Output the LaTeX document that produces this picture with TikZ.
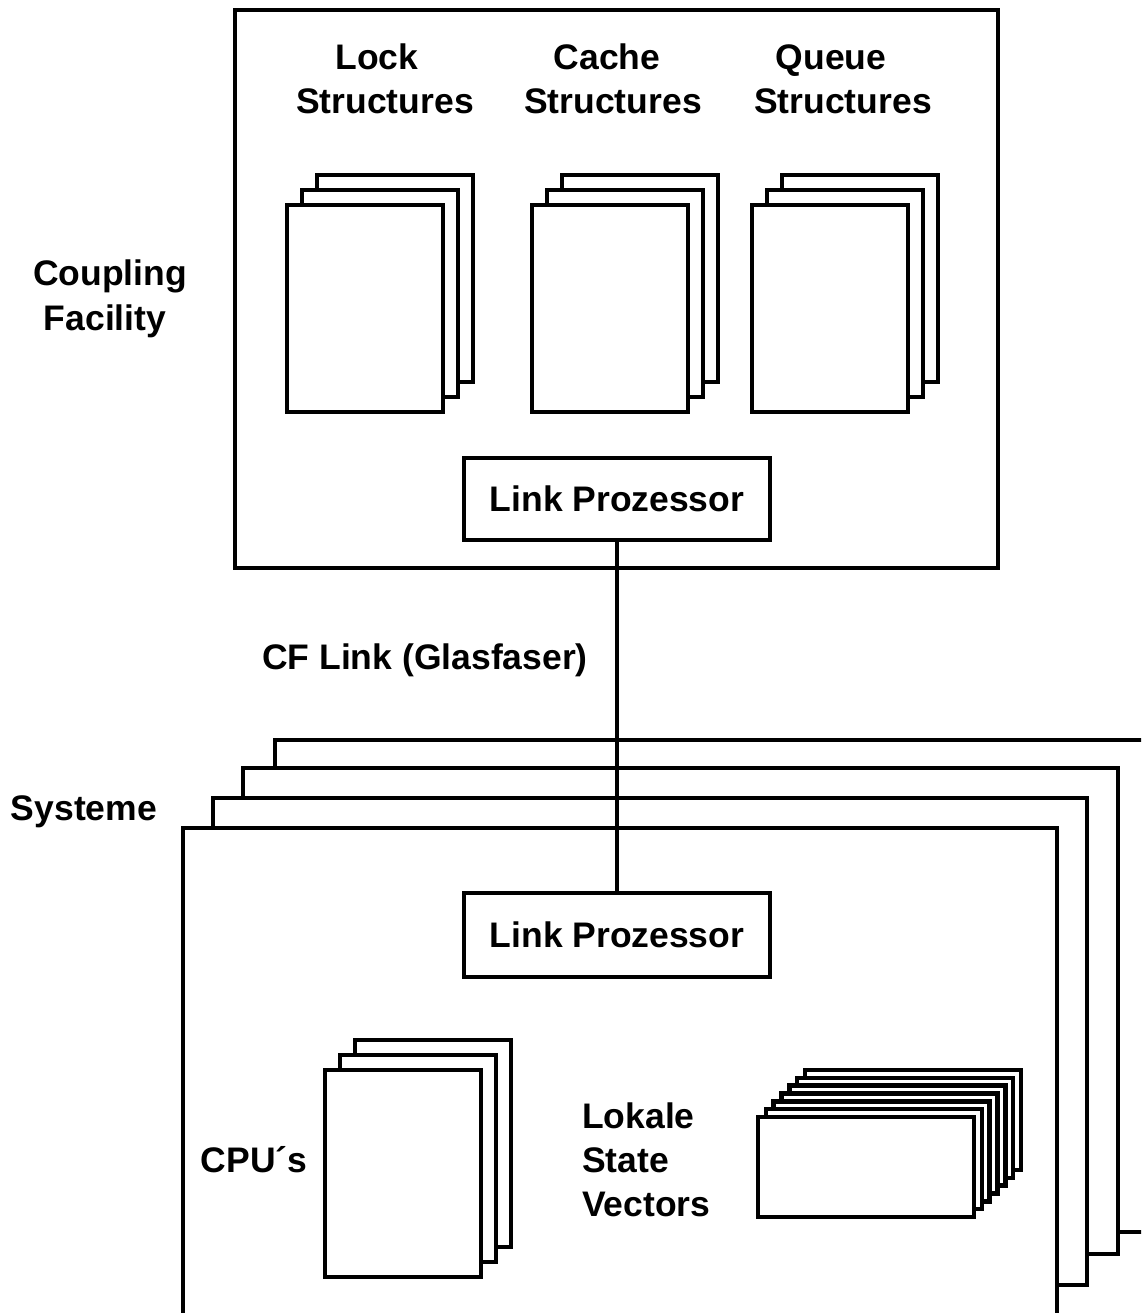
\documentclass[tikz,border=0pt]{standalone}
\usepackage{fontspec}
\setmainfont{Liberation Sans}
\newcommand\mystack[6]{%
  \foreach \i in {#5,...,0}{\filldraw[pg] ({#1+\i*#6},{#2-\i*#6}) rectangle ++(#3,#4);}}
\begin{document}
\begin{tikzpicture}[x=1pt,y=-1pt,line width=4.5pt,
  lbl/.style={font=\bfseries\fontsize{35.5}{44}\selectfont, inner sep=0pt},
  box/.style={draw, fill=white, inner sep=0pt, line width=4.5pt},
  pg/.style={draw, fill=white, line width=4.5pt}]
\useasboundingbox (0,0) rectangle (1141,1313);
\clip (0,0) rectangle (1141,1313);

% Coupling facility
\node[box, minimum width=763pt, minimum height=558pt] (cf) at (616.5,289) {};
\mystack{287}{205}{156}{207}{2}{15}
\mystack{532}{205}{156}{207}{2}{15}
\mystack{752}{205}{156}{207}{2}{15}
\node[lbl, anchor=base, align=center] (tlock) at (385,114) {Lock\kern16pt\\Structures};
\node[lbl, anchor=base, align=center] (tcache) at (613,114) {Cache\kern12pt\\Structures};
\node[lbl, anchor=base, align=center] (tqueue) at (843,114) {Queue\kern24pt\\Structures};
\node[box, lbl, draw, minimum width=306pt, minimum height=82pt] (lpcf) at (617,499) {Link Prozessor};
\node[lbl, anchor=base, align=center] (tcf) at (110,330) {Coupling\\Facility\kern10pt};

% Systems
\filldraw[pg] (275,740) rectangle (1170,1232);
\filldraw[pg] (243,768) rectangle (1118,1254);
\filldraw[pg] (213,798) rectangle (1087,1285);
\filldraw[pg] (183,828) rectangle (1057,1340);
\node[box, lbl, draw, minimum width=306pt, minimum height=84pt] (lpsys) at (617,935) {Link Prozessor};
\draw (lpcf.south) -- (lpsys.north);
\node[lbl, anchor=base] (tlink) at (425,669) {CF Link (Glasfaser)};
\node[lbl, anchor=base] (tsys) at (84,820) {Systeme};

\mystack{325}{1070}{156}{207}{2}{15}
\node[lbl, anchor=base] (tcpu) at (254,1172) {CPU´s};
\mystack{758}{1117}{216}{100}{6}{7.83}
\node[lbl, anchor=base west, align=left] (tvec) at (580,1216) {Lokale\\State\\Vectors};
\end{tikzpicture}
\end{document}
